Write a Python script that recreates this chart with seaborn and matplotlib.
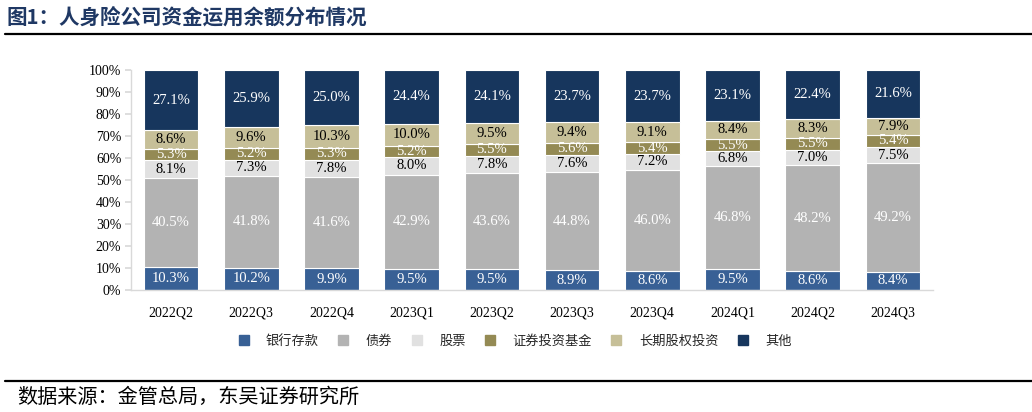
import numpy as np
import pandas as pd
import matplotlib
matplotlib.use("Agg")
import matplotlib.pyplot as plt
import seaborn as sns
from matplotlib.lines import Line2D

quarters = ["2022Q2", "2022Q3", "2022Q4", "2023Q1", "2023Q2",
            "2023Q3", "2023Q4", "2024Q1", "2024Q2", "2024Q3"]
series_names = ["银行存款", "债券", "股票", "证券投资基金", "长期股权投资", "其他"]
bank = [10.3, 10.2, 9.9, 9.5, 9.5, 8.9, 8.6, 9.5, 8.6, 8.4]
bonds = [40.5, 41.8, 41.6, 42.9, 43.6, 44.8, 46.0, 46.8, 48.2, 49.2]
stocks = [8.1, 7.3, 7.8, 8.0, 7.8, 7.6, 7.2, 6.8, 7.0, 7.5]
funds = [5.3, 5.2, 5.3, 5.2, 5.5, 5.6, 5.4, 5.5, 5.5, 5.4]
equity = [8.6, 9.6, 10.3, 10.0, 9.5, 9.4, 9.1, 8.4, 8.3, 7.9]
other = [27.1, 25.9, 25.0, 24.4, 24.1, 23.7, 23.7, 23.1, 22.4, 21.6]

colors = ["#386095", "#B3B3B3", "#E1E1E1", "#948A54", "#C6BF98", "#17365D"]
label_colors = ["white", "white", "black", "white", "black", "white"]

sns.set_theme(style="white")
plt.rcParams["font.family"] = ["Liberation Serif", "Noto Sans CJK SC"]

fig = plt.figure(figsize=(10.32, 4.12), dpi=100)
ax = fig.add_axes([131 / 1032, 1 - 290 / 412, (933 - 131) / 1032, 220 / 412])

values = [bank, bonds, stocks, funds, equity, other]
bottom = np.zeros(len(quarters))
for name, vals, col, lc in zip(series_names, values, colors, label_colors):
    df = pd.DataFrame({"q": quarters, "v": np.array(vals) / 100})
    n_before = len(ax.patches)
    sns.barplot(data=df, x="q", y="v", order=quarters, color=col, width=0.68,
                bottom=bottom / 100, edgecolor="white", linewidth=0.8,
                saturation=1, ax=ax, errorbar=None)
    for p, v in zip(ax.patches[n_before:], vals):
        ax.text(p.get_x() + p.get_width() / 2, p.get_y() + p.get_height() / 2,
                f"{v:.1f}%", ha="center", va="center", color=lc, fontsize=10.5,
                family="Liberation Serif")
    bottom = bottom + np.array(vals)

ax.set_xlim(-0.5, 9.5)
ax.set_ylim(0, 1.0)
ax.set_yticks(np.arange(0, 1.01, 0.1))
ax.set_yticklabels([f"{int(round(t * 100))}%" for t in np.arange(0, 1.01, 0.1)],
                   fontsize=10, color="black")
ax.set_xticks(range(len(quarters)))
ax.set_xticklabels(quarters, fontsize=10, color="black")
ax.set_xlabel("")
ax.set_ylabel("")
for s in ["top", "right"]:
    ax.spines[s].set_visible(False)
for s in ["left", "bottom"]:
    ax.spines[s].set_color("#D9D9D9")
    ax.spines[s].set_linewidth(1.0)
ax.tick_params(axis="y", which="both", left=True, length=4, color="#D9D9D9", pad=3)
ax.tick_params(axis="x", bottom=False, pad=6)

handles = [Line2D([0], [0], marker="s", linestyle="", markersize=7,
                  markerfacecolor=c, markeredgecolor=c) for c in colors]
fig.legend(handles, series_names, loc="center", bbox_to_anchor=(515 / 1032, 1 - 341 / 412),
           ncol=6, frameon=False, handlelength=0.8, handletextpad=1.3, columnspacing=1.45,
           prop={"family": ["Noto Sans CJK SC"], "size": 9.5})

fig.text(6 / 1032, 1 - 17 / 412, "图1：人身险公司资金运用余额分布情况", ha="left", va="center",
         fontsize=14.8, fontweight="bold", color="#1F3864",
         family=["Noto Sans CJK SC", "Liberation Serif"])
fig.add_artist(Line2D([5 / 1032, 1.0], [1 - 34 / 412, 1 - 34 / 412], color="black", linewidth=1.6))
fig.add_artist(Line2D([5 / 1032, 1.0], [1 - 381 / 412, 1 - 381 / 412], color="black", linewidth=1.6))
fig.text(17 / 1032, 1 - 397 / 412, "数据来源：金管总局，东吴证券研究所", ha="left", va="center",
         fontsize=14.5, color="black", family=["Noto Sans CJK SC"])

fig.savefig("out.png", dpi=100)
